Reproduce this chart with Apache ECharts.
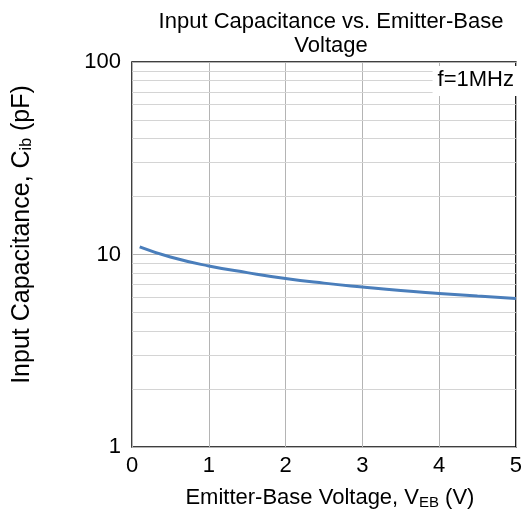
<!DOCTYPE html>
<html><head><meta charset="utf-8">
<script src="https://cdn.jsdelivr.net/npm/echarts@6/dist/echarts.min.js"></script>
<style>html,body{margin:0;padding:0;background:#fff}#c{width:525px;height:519px}</style>
</head><body><div id="c"></div>
<script>
const voltage = [0.1, 0.5, 1, 1.5, 2, 2.5, 3, 3.5, 4, 4.5, 5];
const capacitance = [10.95, 9.7, 8.72, 8.05, 7.5, 7.1, 6.78, 6.5, 6.28, 6.08, 5.9];
const minorGrid = [2,3,4,5,6,7,8,9,20,30,40,50,60,70,80,90];
const xTicks = [0,1,2,3,4,5];
const yTicks = [1,10,100];

const font = 'Liberation Sans, Arial, sans-serif';
const chart = echarts.init(document.getElementById('c'));
chart.setOption({
  animation: false,
  title: {
    text: 'Input Capacitance vs. Emitter-Base\nVoltage',
    left: 326, top: 5, textAlign: 'center',
    textStyle: {fontFamily: font, fontSize: 22, fontWeight: 'normal', color: '#000', lineHeight: 24}
  },
  grid: {left: 132, right: 7, top: 62, bottom: 72, show: true, borderColor: '#000', borderWidth: 1.5},
  xAxis: {
    type: 'value', min: 0, max: 5, interval: 1,
    axisLine: {show: false}, axisTick: {show: false},
    axisLabel: {fontFamily: font, fontSize: 22, color: '#000', margin: 8},
    splitLine: {lineStyle: {color: '#b4b4b4', width: 1}},
    name: '{n|Emitter-Base Voltage, V}{s|EB}{n| (V)}',
    nameLocation: 'middle', nameGap: 39,
    nameTextStyle: {padding: [0, 0, 0, 12], rich: {n: {fontFamily: font, fontSize: 22, color: '#000'}, s: {fontFamily: font, fontSize: 15, color: '#000', verticalAlign: 'bottom', padding: [9,0,0,0]}}}
  },
  yAxis: {
    type: 'log', min: 1, max: 100, logBase: 10,
    axisLine: {show: false}, axisTick: {show: false},
    axisLabel: {fontFamily: font, fontSize: 22, color: '#000', margin: 11},
    splitLine: {lineStyle: {color: '#b4b4b4', width: 1}},
    name: '{n|Input Capacitance, C}{s|ib}{n| (pF)}',
    nameLocation: 'middle', nameGap: 97,
    nameTextStyle: {padding: [0, 0, 0, 40], rich: {n: {fontFamily: font, fontSize: 25, color: '#000'}, s: {fontFamily: font, fontSize: 16, color: '#000', verticalAlign: 'bottom', padding: [10,0,0,0]}}}
  },
  graphic: [{
    type: 'text', right: 8, top: 66, z: 10,
    style: {text: 'f=1MHz', fontFamily: font, fontSize: 22, fill: '#000', backgroundColor: '#fff', padding: [3, 3, 5, 5]}
  }],
  series: [{
    type: 'line', data: voltage.map((v, i) => [v, capacitance[i]]),
    smooth: true, showSymbol: false, z: 5,
    lineStyle: {color: '#4a7ebb', width: 3},
    markLine: {
      silent: true, symbol: 'none', z: 1,
      label: {show: false},
      lineStyle: {color: '#d4d4d4', width: 1, type: 'solid'},
      data: minorGrid.map(v => ({yAxis: v}))
    }
  }]
});
</script></body></html>
